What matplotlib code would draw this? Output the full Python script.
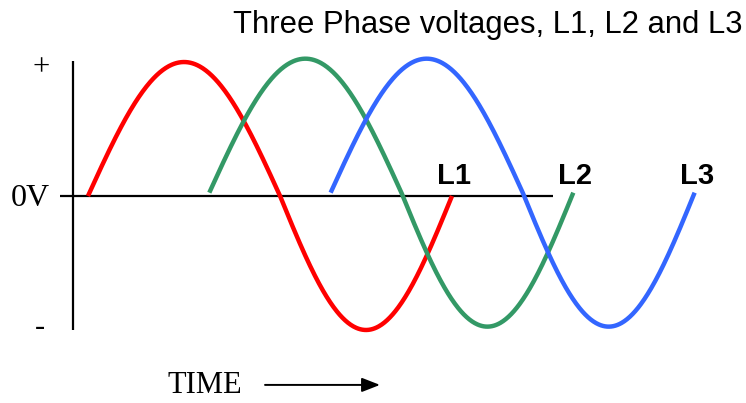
import numpy as np
import matplotlib
matplotlib.use("Agg")
import matplotlib.pyplot as plt

# ---- data ----
phase_labels = ["L1", "L2", "L3"]
phase_shift_deg = [0, 120, 240]          # start of each phase (time units, 360 = one cycle)
amplitudes = [1.0, 1.0, 1.0]
baseline_offsets = [0.0, 0.025, 0.025]   # slight vertical offset as drawn
half_cycle_lengths = [190, 170]          # positive half drawn a bit wider than negative half
colors = ["#FF0000", "#339966", "#3366FF"]
title = "Three Phase voltages, L1, L2 and L3"
y_tick_text = ["+", "0V", "-"]
x_label = "TIME"

fig = plt.figure(figsize=(7.46, 4.03), dpi=100)
ax = fig.add_axes([0, 0, 1, 1])
ax.set_xlim(-87.0, 650.8)
ax.set_ylim(-1.545, 1.463)
ax.axis("off")

# axes lines
ax.plot([-27.7, 459.9], [0, 0], color="black", lw=1.6, solid_capstyle="butt", zorder=1)
ax.plot([-14.8, -14.8], [1.007, -1.0], color="black", lw=1.6, solid_capstyle="butt", zorder=1)

h1, h2 = half_cycle_lengths
for lab, ph, amp, off, col in zip(phase_labels, phase_shift_deg, amplitudes, baseline_offsets, colors):
    ang = np.linspace(0, 360, 500)
    t = np.where(ang <= 180, ang / 180 * h1, h1 + (ang - 180) / 180 * h2)
    ax.plot(ph + t, off + amp * np.sin(np.deg2rad(ang)), color=col, lw=3.2,
            solid_capstyle="butt", zorder=2)
    ax.text(ph + h1 + h2 + 2, 0.09, lab, ha="center", va="baseline",
            fontsize=21, fontweight="bold", family="Liberation Sans")

serif = "Liberation Serif"
ax.text(-46.5, 0.96, y_tick_text[0], ha="center", va="center", fontsize=22, family=serif)
ax.text(-57.5, -0.015, y_tick_text[1], ha="center", va="center", fontsize=23, family=serif)
ax.text(-47.5, -0.978, y_tick_text[2], ha="center", va="center", fontsize=22, family=serif)

ax.text(79.1, -1.47, x_label, ha="left", va="baseline", fontsize=22, family=serif)
ax.annotate("", xy=(288.8, -1.41), xytext=(175.1, -1.41),
            arrowprops=dict(arrowstyle="-|>,head_length=1.1,head_width=0.43",
                            color="black", lw=1.4, shrinkA=0, shrinkB=0))

ax.text(143.4, 1.216, title, ha="left", va="baseline", fontsize=22.3, family="Liberation Sans")

fig.savefig("out.png", dpi=100)
